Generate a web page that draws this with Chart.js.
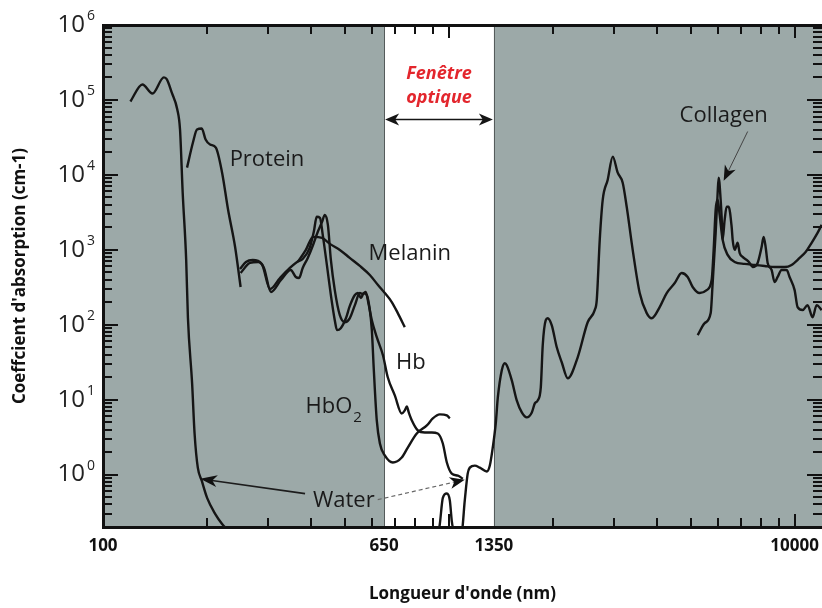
<!DOCTYPE html>
<html><head><meta charset="utf-8">
<script src="https://cdn.jsdelivr.net/npm/chart.js@4.4.1/dist/chart.umd.min.js"></script>
<style>html,body{margin:0;padding:0;background:#fff;}canvas{display:block;}</style>
</head><body>
<canvas id="c" width="822" height="608"></canvas>
<script>
// ---- axis ticks / ranges ----
const xTickValues = [100, 650, 1350, 10000];
const yDecades = [1, 10, 100, 1000, 10000, 100000, 1000000];
const opticalWindow = [650, 1350];

// ---- series (wavelength nm, absorption cm-1) ----
const waterUvNm  = [120, 130, 139, 150, 153, 158, 164, 167, 170, 174, 176, 181, 184, 188, 193, 200, 211, 221, 230];
const waterUvAbs = [95500, 161000, 122000, 200000, 188000, 126000, 74600, 40300, 5780, 732, 126, 16.5, 3.54, 1.24, 0.83, 0.49, 0.30, 0.22, 0.18];

const proteinNm  = [175, 182, 187, 193, 198, 204, 212, 221, 230, 241, 250];
const proteinAbs = [12500, 27000, 40300, 41500, 29600, 25400, 23100, 10700, 3420, 1090, 319];

const hbo2Nm  = [249, 259, 271, 288, 304, 325, 347, 364, 378, 396, 407, 415, 424, 432, 444, 456, 468, 475, 487, 504, 517, 535, 546, 557, 568, 579, 591, 599, 607, 619, 632, 653, 689, 731, 761, 808, 864, 899, 942, 987, 1007];
const hbo2Abs = [555, 689, 732, 648, 300, 421, 573, 689, 755, 1060, 1740, 2760, 2670, 1580, 628, 249, 115, 84.7, 90, 122, 177, 249, 265, 227, 265, 249, 157, 84.7, 24.7, 5.28, 2.60, 1.80, 1.45, 1.69, 2.30, 3.54, 4.53, 5.62, 6.36, 6.17, 5.62];

const hbNm  = [250, 266, 281, 292, 306, 327, 349, 361, 369, 378, 391, 405, 418, 430, 438, 447, 456, 468, 484, 500, 517, 535, 553, 564, 575, 587, 599, 619, 645, 666, 698, 731, 746, 756, 766, 782, 814, 852, 893, 929, 961, 987, 1020, 1062, 1098];
const hbAbs = [491, 668, 689, 573, 273, 395, 538, 434, 421, 573, 780, 1160, 1740, 2360, 2930, 2150, 732, 290, 134, 108, 122, 183, 265, 257, 273, 183, 115, 68.3, 39.2, 19.9, 11.4, 6.55, 7.19, 8.13, 6.76, 5.28, 3.88, 3.65, 3.65, 3.54, 2.60, 1.45, 1.03, 0.97, 0.88];

const melaninNm  = [366, 386, 405, 430, 453, 484, 517, 553, 591, 624, 653, 684, 712, 746];
const melaninAbs = [689, 997, 1490, 1440, 1200, 997, 780, 609, 461, 339, 265, 201, 143, 92.9];

const waterIrNm  = [929, 942, 961, 987, 1007, 1020, 1034, 1090, 1112, 1134, 1150, 1189, 1229, 1288, 1314, 1340, 1367, 1386, 1423, 1452, 1471, 1521, 1572, 1626, 1680, 1738, 1773, 1808, 1845, 1869, 1907, 1932, 1984, 2052, 2121, 2208, 2359, 2521, 2642, 2678, 2732, 2787, 2881, 2979, 3079, 3183, 3269, 3402, 3565, 3735, 3861, 4072, 4267, 4501, 4713, 4906, 5072, 5314, 5568, 5755, 5833, 5911, 5990, 6070, 6192, 6402, 6708, 7169, 7661, 8188, 8750, 9356, 9800, 10340, 10760, 11200, 11650, 11970];
const waterIrAbs = [0.15, 0.22, 0.49, 0.56, 0.45, 0.24, 0.18, 0.18, 0.45, 1.03, 1.24, 1.32, 1.24, 1.10, 1.32, 2.30, 4.82, 10.7, 24.7, 30.6, 28.8, 18.1, 9.79, 6.76, 5.80, 6.76, 8.92, 9.79, 14.6, 53.3, 115, 122, 98.8, 50.1, 31.6, 19.3, 36.8, 108, 157, 213, 1360, 4660, 8630, 17500, 10700, 7870, 3750, 1000, 265, 143, 122, 172, 265, 360, 491, 434, 319, 265, 290, 395, 1000, 3420, 4690, 2930, 1360, 855, 689, 648, 628, 609, 590, 590, 628, 780, 937, 1240, 1680, 2150];

const collagenNm  = [5245, 5495, 5719, 5794, 5911, 5990, 6030, 6111, 6151, 6192, 6276, 6360, 6445, 6575, 6620, 6708, 6844, 6934, 7074, 7265, 7412, 7561, 7817, 8027, 8135, 8245, 8356, 8580, 8750, 8932, 9170, 9482, 9670, 10000, 10200, 10550, 10900, 11270, 11580, 11970];
const collagenAbs = [72.6, 105, 143, 360, 1680, 5780, 9180, 4660, 2760, 1360, 2510, 3750, 3750, 2030, 1360, 997, 1240, 909, 804, 732, 668, 590, 668, 1090, 1490, 1090, 668, 538, 372, 434, 538, 538, 434, 290, 172, 157, 183, 126, 183, 157];

// ---- annotation anchors (data coordinates) ----
const curveLabels = [
  {text: 'Protein',  nm: 298,  abs: 16000},
  {text: 'Melanin',  nm: 771,  abs: 881},
  {text: 'Hb',       nm: 777,  abs: 31.6},
  {text: 'Water',    nm: 497,  abs: 0.449},
  {text: 'Collagen', nm: 6235, abs: 62000}
];
const hbo2Label = {nm: 450, abs: 8.13};
const windowTitle = [{text: 'Fenêtre', abs: 226000}, {text: 'optique', abs: 105000}];
const windowArrowAbs = 54800;
const pointerArrows = [
  {from: [384, 0.557], to: [191, 0.88], dash: [], color: '#1c1c1c', width: 1.6, head: 17, half: 6},
  {from: [623, 0.463], to: [1112, 0.857], dash: [4, 3], color: '#666', width: 1.2, head: 15, half: 6},
  {from: [7315, 37900], to: [6235, 8360], dash: [], color: '#444', width: 1, head: 15, half: 6}
];

const FONT = '"Open Sans", "DejaVu Sans", sans-serif';
const SHADE = '#9ca9a8';
const INK = '#151515';
const FRAME = '#111111';

function ds(nm, abs) {
  return {data: nm.map((v, i) => ({x: v, y: abs[i]})), borderColor: INK, borderWidth: 2.4,
          pointRadius: 0, fill: false, cubicInterpolationMode: 'monotone'};
}

function arrowHead(ctx, x1, y1, x2, y2, len, half) {
  const t = Math.atan2(y2 - y1, x2 - x1), c = Math.cos(t), s = Math.sin(t);
  ctx.beginPath();
  ctx.moveTo(x2, y2);
  ctx.lineTo(x2 - len * c + half * s, y2 - len * s - half * c);
  ctx.lineTo(x2 - len * 0.72 * c, y2 - len * 0.72 * s);
  ctx.lineTo(x2 - len * c - half * s, y2 - len * s + half * c);
  ctx.closePath();
  ctx.fill();
}

const decor = {
  id: 'decor',
  beforeDatasetsDraw(chart) {
    const ctx = chart.ctx, a = chart.chartArea, x = chart.scales.x, y = chart.scales.y;
    const x0 = x.getPixelForValue(opticalWindow[0]);
    const x1 = x.getPixelForValue(opticalWindow[1]);
    ctx.save();
    ctx.fillStyle = SHADE;
    ctx.fillRect(a.left, a.top, x0 - a.left, a.bottom - a.top);
    ctx.fillRect(x1, a.top, a.right - x1, a.bottom - a.top);
    ctx.fillStyle = '#555b5b';
    ctx.fillRect(Math.round(x0), a.top, 1, a.bottom - a.top);
    ctx.fillRect(Math.round(x1), a.top, 1, a.bottom - a.top);
    // frame + inward ticks
    ctx.fillStyle = FRAME;
    ctx.fillRect(a.left - 1, a.top - 1, a.right - a.left + 1, 3);
    ctx.fillRect(a.left - 1, a.bottom - 1, a.right - a.left + 1, 3);
    ctx.fillRect(a.left - 1, a.top, 3, a.bottom - a.top);
    for (let d = 100; d <= 10000; d *= 10) {
      for (let m = 1; m <= 9; m++) {
        const v = m * d;
        if (v > 12000) continue;
        const p = Math.round(x.getPixelForValue(v));
        const L = m === 1 ? 13 : 9;
        ctx.fillRect(p - 1, a.top, 2, L);
        ctx.fillRect(p - 1, a.bottom - L, 2, L);
      }
    }
    for (let e = -1; e <= 6; e++) {
      for (let m = 1; m <= 9; m++) {
        const v = m * Math.pow(10, e);
        if (v < 0.1999 || v > 1000001) continue;
        const p = Math.round(y.getPixelForValue(v));
        const L = m === 1 ? 15 : 9;
        ctx.fillRect(a.left, p - 1, L, 2);
        ctx.fillRect(a.right - L, p - 1, L, 2);
      }
    }
    ctx.restore();
  },
  afterDatasetsDraw(chart) {
    const ctx = chart.ctx, a = chart.chartArea, x = chart.scales.x, y = chart.scales.y;
    ctx.save();
    ctx.fillStyle = '#222';
    yDecades.forEach(v => {
      const p = y.getPixelForValue(v);
      ctx.font = '24px ' + FONT;
      ctx.textAlign = 'right'; ctx.textBaseline = 'middle';
      ctx.fillText('10', a.left - 18, p);
      ctx.font = '14px ' + FONT;
      ctx.textAlign = 'left';
      ctx.fillText(String(Math.round(Math.log10(v))), a.left - 16, p - 9);
    });
    ctx.fillStyle = '#1a1a1a';
    ctx.font = '22px ' + FONT;
    ctx.textAlign = 'center'; ctx.textBaseline = 'middle';
    curveLabels.forEach(l => ctx.fillText(l.text, x.getPixelForValue(l.nm), y.getPixelForValue(l.abs)));
    const hx = x.getPixelForValue(hbo2Label.nm), hy = y.getPixelForValue(hbo2Label.abs);
    const w = ctx.measureText('HbO').width;
    ctx.fillText('HbO', hx, hy);
    ctx.font = '15px ' + FONT;
    ctx.textAlign = 'left';
    ctx.fillText('2', hx + w / 2 + 1, hy + 11);
    const wx0 = x.getPixelForValue(opticalWindow[0]), wx1 = x.getPixelForValue(opticalWindow[1]);
    const wc = (wx0 + wx1) / 2;
    ctx.fillStyle = '#e3262d';
    ctx.font = 'italic bold 18px ' + FONT;
    ctx.textAlign = 'center';
    windowTitle.forEach(t => ctx.fillText(t.text, wc, y.getPixelForValue(t.abs)));
    const wy = y.getPixelForValue(windowArrowAbs);
    ctx.strokeStyle = INK; ctx.fillStyle = INK; ctx.lineWidth = 1.5;
    ctx.beginPath(); ctx.moveTo(wx0 + 6, wy); ctx.lineTo(wx1 - 6, wy); ctx.stroke();
    arrowHead(ctx, wx1, wy, wx0 + 1, wy, 14, 6);
    arrowHead(ctx, wx0, wy, wx1 - 1, wy, 14, 6);
    pointerArrows.forEach(r => {
      const fx = x.getPixelForValue(r.from[0]), fy = y.getPixelForValue(r.from[1]);
      const tx = x.getPixelForValue(r.to[0]), ty = y.getPixelForValue(r.to[1]);
      const t = Math.atan2(ty - fy, tx - fx);
      ctx.strokeStyle = r.color; ctx.lineWidth = r.width; ctx.setLineDash(r.dash);
      ctx.beginPath(); ctx.moveTo(fx, fy);
      ctx.lineTo(tx - r.head * 0.7 * Math.cos(t), ty - r.head * 0.7 * Math.sin(t)); ctx.stroke();
      ctx.setLineDash([]);
      ctx.fillStyle = '#111';
      arrowHead(ctx, fx, fy, tx, ty, r.head, r.half);
    });
    ctx.restore();
  }
};

new Chart(document.getElementById('c'), {
  type: 'line',
  data: {
    datasets: [
      ds(waterUvNm, waterUvAbs),
      ds(proteinNm, proteinAbs),
      ds(hbo2Nm, hbo2Abs),
      ds(hbNm, hbAbs),
      ds(melaninNm, melaninAbs),
      ds(waterIrNm, waterIrAbs),
      ds(collagenNm, collagenAbs)
    ]
  },
  options: {
    responsive: false,
    devicePixelRatio: 1,
    animation: false,
    events: [],
    layout: {padding: {top: 25, left: 0, right: 0, bottom: 0}},
    plugins: {legend: {display: false}, tooltip: {enabled: false}},
    scales: {
      x: {
        type: 'logarithmic', min: 100, max: 12000,
        afterBuildTicks: s => { s.ticks = xTickValues.map(v => ({value: v})); },
        ticks: {autoSkip: false, maxRotation: 0, color: '#111', padding: 9,
                font: {family: FONT, size: 17, weight: 'bold'}, callback: v => String(v)},
        grid: {display: false, drawTicks: false},
        border: {display: false},
        title: {display: true, text: "Longueur d'onde (nm)", color: '#111',
                font: {family: FONT, size: 17, weight: 'bold'}, padding: {top: 0, bottom: 4}},
        afterFit: s => { s.height = 81; s.paddingLeft = 0; s.paddingRight = 0; }
      },
      y: {
        type: 'logarithmic', min: 0.2, max: 1000000,
        afterBuildTicks: s => { s.ticks = yDecades.map(v => ({value: v})); },
        ticks: {display: false},
        grid: {display: false, drawTicks: false},
        border: {display: false},
        title: {display: true, text: "Coeffcient d'absorption (cm-1)", color: '#111',
                font: {family: FONT, size: 17, weight: 'bold'}, padding: {top: 10, bottom: 0}},
        afterFit: s => { s.width = 103; s.paddingTop = 0; s.paddingBottom = 0; }
      }
    }
  },
  plugins: [decor]
});
</script>
</body></html>
